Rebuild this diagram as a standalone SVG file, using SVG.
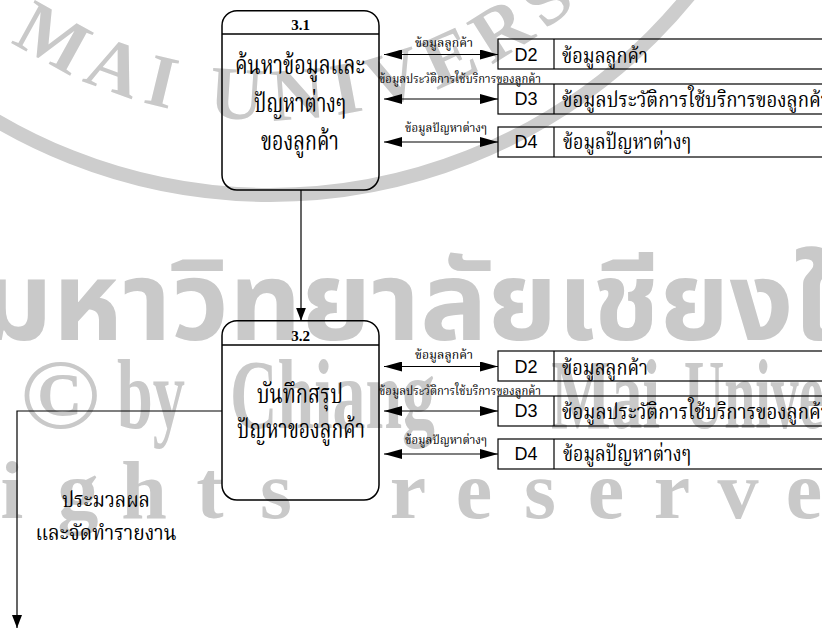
<svg xmlns="http://www.w3.org/2000/svg" width="822" height="631" viewBox="0 0 822 631">
<style>
.wm{fill:#c9c9c9;}
.wmserif{font-family:"Liberation Serif","Times New Roman",serif;font-weight:bold;}
.wmthai{font-family:"Noto Sans Thai","Noto Serif Thai","Noto Sans","DejaVu Sans",sans-serif;font-weight:bold;}
.wmline{fill:none;stroke:#cdcdcd;}
.proc{fill:none;stroke:#000;stroke-width:1.5;}
.ln{fill:none;stroke:#000;stroke-width:1.2;}
.th{font-family:"Noto Serif Thai","Noto Sans Thai","Noto Sans","DejaVu Serif",serif;fill:#000;}
.num{font-family:"Liberation Serif","Times New Roman",serif;font-weight:bold;font-size:15px;text-anchor:middle;}
.dn{font-family:"Liberation Sans",Arial,sans-serif;font-size:18px;text-anchor:middle;}
.big{font-size:26px;text-anchor:middle;}
.st{font-size:22px;}
.sm{font-size:12px;}
.mid{text-anchor:middle;}
</style>
<defs>
<marker id="ah" markerUnits="userSpaceOnUse" markerWidth="18" markerHeight="10" refX="18" refY="5" orient="auto-start-reverse"><path d="M0,0 L18,5 L0,10 z"/></marker>
<marker id="ahv" markerUnits="userSpaceOnUse" markerWidth="13" markerHeight="10" refX="13" refY="5" orient="auto"><path d="M0,0 L13,5 L0,10 z"/></marker>
<path id="sealText" d="M -132.7 -112.5 A 465 465 0 0 0 727.9 -264.3"/>
</defs>

<!-- copyright watermark -->
<g id="watermark">
  <circle class="wmline" cx="270" cy="-345" r="540" stroke-width="14"/>
  <text class="wm wmserif" font-size="75" font-weight="normal" letter-spacing="10"><textPath href="#sealText" startOffset="212">MAI UNIVERSITY</textPath></text>
  <text class="wm wmthai" x="-20" y="340" font-size="110" textLength="994" lengthAdjust="spacingAndGlyphs">มหาวิทยาลัยเชียงใหม่</text>
  <text class="wm wmserif" y="428" font-size="100" font-weight="normal">
    <tspan x="20" textLength="80" lengthAdjust="spacingAndGlyphs">©</tspan>
    <tspan x="117" textLength="68" lengthAdjust="spacingAndGlyphs">by</tspan>
    <tspan x="230" textLength="205" lengthAdjust="spacingAndGlyphs">Chiang</tspan>
    <tspan x="551" textLength="109" lengthAdjust="spacingAndGlyphs">Mai</tspan>
    <tspan x="684" textLength="248" lengthAdjust="spacingAndGlyphs">University</tspan>
  </text>
  <text class="wm wmserif mid" y="518" font-size="82" x="-318 -252 -186 -120 -54 12 78 144 210 276 342 408 474 540 606 672 738 804 870">All rights reserved</text>
</g>

<!-- process 3.1 -->
<g id="p3_1">
  <rect class="proc" x="222" y="10.7" width="157" height="179.3" rx="15"/>
  <line class="proc" x1="222" y1="34" x2="379" y2="34"/>
  <text class="num" x="300.5" y="30">3.1</text>
  <text class="th big" x="300" y="74" textLength="130" lengthAdjust="spacingAndGlyphs">ค้นหาข้อมูลและ</text>
  <text class="th big" x="300" y="112" textLength="92" lengthAdjust="spacingAndGlyphs">ปัญหาต่างๆ</text>
  <text class="th big" x="300" y="150" textLength="78" lengthAdjust="spacingAndGlyphs">ของลูกค้า</text>
</g>

<!-- process 3.2 -->
<g id="p3_2">
  <rect class="proc" x="222" y="320.7" width="157" height="179.3" rx="15"/>
  <line class="proc" x1="222" y1="345" x2="379" y2="345"/>
  <text class="num" x="300.5" y="341">3.2</text>
  <text class="th big" x="300" y="403" textLength="86" lengthAdjust="spacingAndGlyphs">บันทึกสรุป</text>
  <text class="th big" x="301" y="438" textLength="128" lengthAdjust="spacingAndGlyphs">ปัญหาของลูกค้า</text>
</g>

<!-- data stores used by 3.1 -->
<g id="s1_d2">
  <rect class="ln" x="498" y="39" width="340" height="30"/>
  <line class="ln" x1="554" y1="39" x2="554" y2="69"/>
  <text class="dn" x="526" y="60.5">D2</text>
  <text class="th st" x="562" y="63" textLength="86" lengthAdjust="spacingAndGlyphs">ข้อมูลลูกค้า</text>
</g>
<g id="s1_d3">
  <rect class="ln" x="498" y="84" width="340" height="30"/>
  <line class="ln" x1="554" y1="84" x2="554" y2="114"/>
  <text class="dn" x="526" y="105">D3</text>
  <text class="th st" x="562" y="107" textLength="268" lengthAdjust="spacingAndGlyphs">ข้อมูลประวัติการใช้บริการของลูกค้า</text>
</g>
<g id="s1_d4">
  <rect class="ln" x="498" y="127" width="340" height="30"/>
  <line class="ln" x1="554" y1="127" x2="554" y2="157"/>
  <text class="dn" x="526" y="148">D4</text>
  <text class="th st" x="563" y="149" textLength="128" lengthAdjust="spacingAndGlyphs">ข้อมูลปัญหาต่างๆ</text>
</g>

<!-- data stores used by 3.2 -->
<g id="s2_d2">
  <rect class="ln" x="498" y="351" width="340" height="30"/>
  <line class="ln" x1="554" y1="351" x2="554" y2="381"/>
  <text class="dn" x="526" y="372.5">D2</text>
  <text class="th st" x="562" y="375" textLength="86" lengthAdjust="spacingAndGlyphs">ข้อมูลลูกค้า</text>
</g>
<g id="s2_d3">
  <rect class="ln" x="498" y="396" width="340" height="30"/>
  <line class="ln" x1="554" y1="396" x2="554" y2="426"/>
  <text class="dn" x="526" y="417">D3</text>
  <text class="th st" x="562" y="419" textLength="268" lengthAdjust="spacingAndGlyphs">ข้อมูลประวัติการใช้บริการของลูกค้า</text>
</g>
<g id="s2_d4">
  <rect class="ln" x="498" y="439" width="340" height="30"/>
  <line class="ln" x1="554" y1="439" x2="554" y2="469"/>
  <text class="dn" x="526" y="460">D4</text>
  <text class="th st" x="563" y="461" textLength="128" lengthAdjust="spacingAndGlyphs">ข้อมูลปัญหาต่างๆ</text>
</g>

<!-- data flows -->
<g id="connectors">
  <path class="ln" d="M384 54.5 H498" marker-start="url(#ah)" marker-end="url(#ah)"/>
  <path class="ln" d="M384 99 H498" marker-start="url(#ah)" marker-end="url(#ah)"/>
  <path class="ln" d="M384 142 H498" marker-start="url(#ah)" marker-end="url(#ah)"/>
  <path class="ln" d="M384 366.5 H498" marker-start="url(#ah)" marker-end="url(#ah)"/>
  <path class="ln" d="M384 411 H498" marker-start="url(#ah)" marker-end="url(#ah)"/>
  <path class="ln" d="M384 454 H498" marker-start="url(#ah)" marker-end="url(#ah)"/>
  <path class="ln" d="M301 190 V320.7" marker-end="url(#ahv)"/>
  <path class="ln" d="M222 411 H17 V628" marker-end="url(#ahv)"/>

  <text class="th sm mid" x="444" y="47" textLength="58" lengthAdjust="spacingAndGlyphs">ข้อมูลลูกค้า</text>
  <text class="th sm" x="379" y="83" textLength="162" lengthAdjust="spacingAndGlyphs">ข้อมูลประวัติการใช้บริการของลูกค้า</text>
  <text class="th sm mid" x="446" y="132" textLength="82" lengthAdjust="spacingAndGlyphs">ข้อมูลปัญหาต่างๆ</text>
  <text class="th sm mid" x="444" y="359" textLength="58" lengthAdjust="spacingAndGlyphs">ข้อมูลลูกค้า</text>
  <text class="th sm" x="379" y="395" textLength="162" lengthAdjust="spacingAndGlyphs">ข้อมูลประวัติการใช้บริการของลูกค้า</text>
  <text class="th sm mid" x="446" y="444" textLength="82" lengthAdjust="spacingAndGlyphs">ข้อมูลปัญหาต่างๆ</text>

  <text class="th st mid" x="106" y="507" textLength="88" lengthAdjust="spacingAndGlyphs">ประมวลผล</text>
  <text class="th st mid" x="106" y="540" textLength="141" lengthAdjust="spacingAndGlyphs">และจัดทำรายงาน</text>
</g>
</svg>
